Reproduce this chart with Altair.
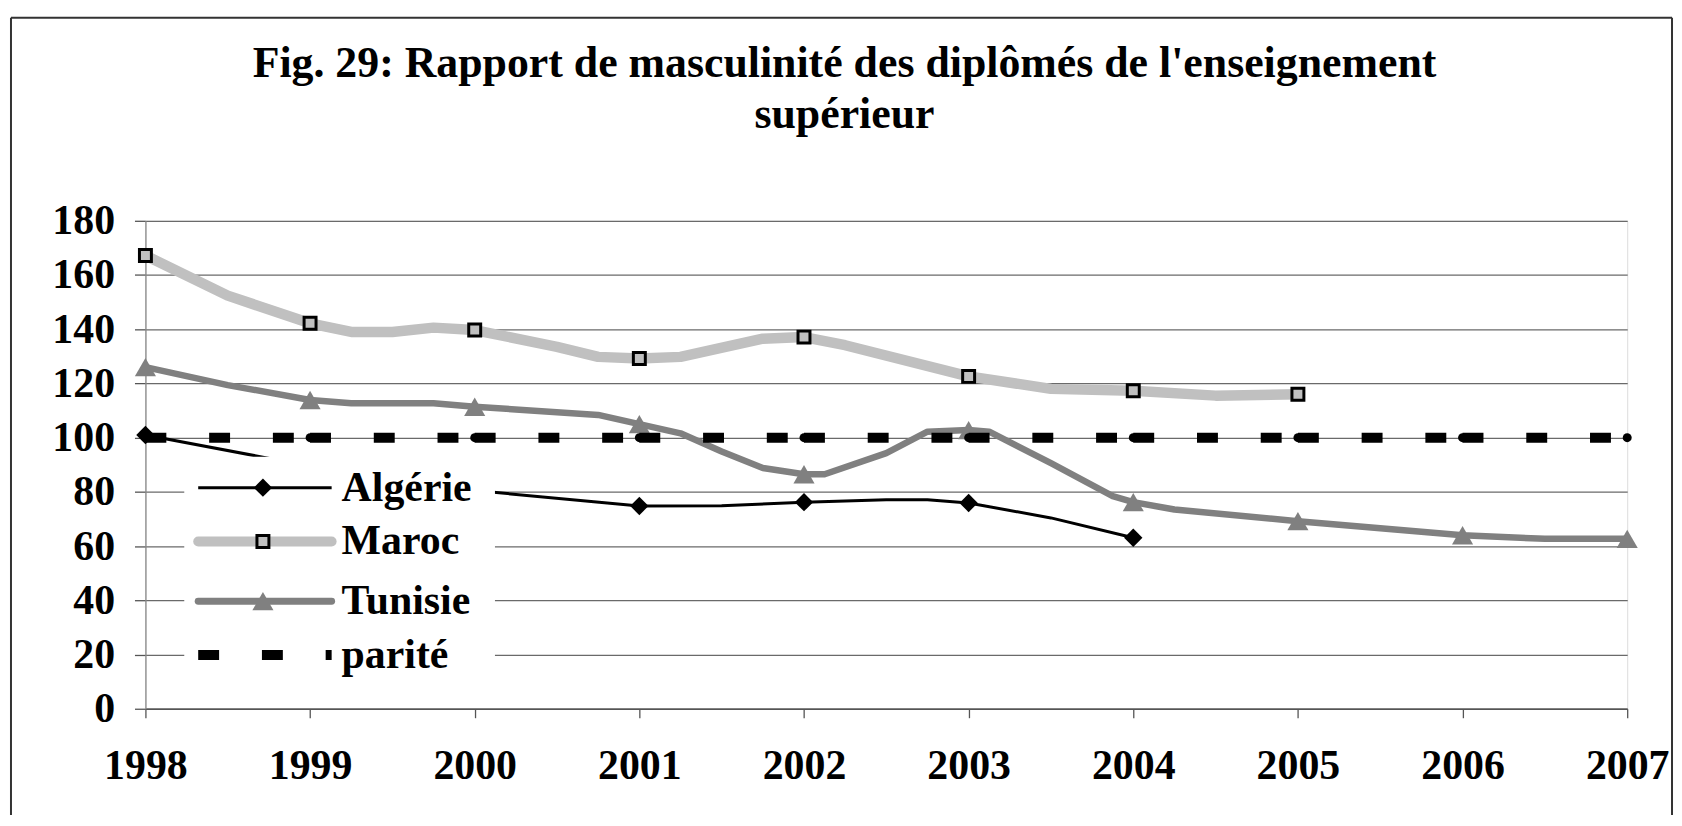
import altair as alt
import pandas as pd

FONT = "Liberation Serif"

title_lines = ["Fig. 29: Rapport de masculinité des diplômés de l'enseignement", "supérieur"]
series_names = ["Algérie", "Maroc", "Tunisie", "parité"]
years = list(range(1998, 2008))
y_ticks = list(range(0, 181, 20))

# Algérie
alg_marker_years = [1998, 1999, 2000, 2001, 2002, 2003, 2004]
alg_marker_vals = [101, 89.5, 80.5, 74.8, 76.2, 75.9, 63.1]
alg_line_x = [1998, 1999, 2000, 2001, 2001.5, 2002, 2002.5, 2002.75, 2003, 2003.5, 2004]
alg_line_y = [101, 89.5, 80.5, 74.8, 74.9, 76.2, 77.1, 77.1, 75.9, 70.4, 63.1]

# Maroc
mar_marker_years = [1998, 1999, 2000, 2001, 2002, 2003, 2004, 2005]
mar_marker_vals = [167.2, 142.2, 139.7, 129.2, 137.1, 122.6, 117.3, 116.0]
mar_line_x = [1998, 1998.5, 1999, 1999.25, 1999.5, 1999.75, 2000, 2000.5, 2000.75, 2001,
              2001.25, 2001.75, 2002, 2002.25, 2003, 2003.5, 2004, 2004.5, 2005]
mar_line_y = [167.2, 152.4, 142.2, 139.0, 139.0, 140.6, 139.7, 133.5, 129.8, 129.2,
              129.8, 136.5, 137.1, 134.1, 122.6, 118.0, 117.3, 115.5, 116.0]

# Tunisie
tun_marker_years = years
tun_marker_vals = [126.0, 113.9, 111.4, 105.0, 86.5, 102.8, 76.2, 69.2, 64.0, 62.7]
tun_line_x = [1998, 1998.5, 1999, 1999.25, 1999.75, 2000, 2000.75, 2001, 2001.25, 2001.5,
              2001.75, 2002, 2002.125, 2002.5, 2002.75, 2003, 2003.125, 2003.5, 2003.875,
              2004, 2004.25, 2005, 2006, 2006.5, 2007]
tun_line_y = [126.0, 119.4, 113.9, 112.7, 112.7, 111.4, 108.4, 105.0, 101.6, 94.9,
              88.8, 86.5, 86.5, 94.3, 102.2, 102.8, 102.2, 90.6, 78.4,
              76.2, 73.5, 69.2, 64.0, 62.7, 62.7]

# parité
parite_years = years
parite_vals = [100] * len(years)

W, H = 1488, 490
LABEL_SIZE = 42

x_scale = alt.Scale(domain=[1998, 2007], nice=False, zero=False)
y_scale = alt.Scale(domain=[0, 180], nice=False)

x_axis = alt.Axis(values=years, format="d", title=None, grid=False,
                  domainColor="#555555", domainWidth=1.5,
                  tickColor="#555555", tickSize=9, tickWidth=1.3,
                  labelFont=FONT, labelFontSize=LABEL_SIZE, labelFontWeight="bold", labelColor="black",
                  labelPadding=28, labelFlush=False, labelOverlap=False)
y_axis = alt.Axis(values=y_ticks, title=None, grid=True,
                  gridColor="#6a6a6a", gridWidth=1.3,
                  domainColor="#8a8a8a", domainWidth=1.3,
                  tickColor="#555555", tickSize=11, tickWidth=1.3,
                  labelFont=FONT, labelFontSize=LABEL_SIZE, labelFontWeight="bold", labelColor="black",
                  labelPadding=20, labelOverlap=False)


def X(field):
    return alt.X(field, type="quantitative", scale=x_scale, axis=x_axis)


def Y(field):
    return alt.Y(field, type="quantitative", scale=y_scale, axis=y_axis)


def line_layer(xs, ys, color, width):
    df = pd.DataFrame({"x": xs, "y": ys})
    return alt.Chart(df).mark_line(color=color, strokeWidth=width, strokeCap="round",
                                   strokeJoin="round").encode(x=X("x"), y=Y("y"))


def point_layer(xs, ys, **kw):
    df = pd.DataFrame({"x": xs, "y": ys})
    return alt.Chart(df).mark_point(opacity=1, **kw).encode(x=X("x"), y=Y("y"))


ALG_MARK = dict(shape="diamond", filled=True, color="black", size=340)
MAR_MARK = dict(shape="square", filled=True, fill="#C0C0C0", stroke="black", strokeWidth=3,
                size=144, fillOpacity=1)
TUN_MARK = dict(shape="triangle-up", filled=True, color="#808080", size=450)

alg_line = line_layer(alg_line_x, alg_line_y, "black", 3)
alg_pts = point_layer(alg_marker_years, alg_marker_vals, **ALG_MARK)
mar_line = line_layer(mar_line_x, mar_line_y, "#C0C0C0", 10.5)
mar_pts = point_layer(mar_marker_years, mar_marker_vals, **MAR_MARK)
tun_line = line_layer(tun_line_x, tun_line_y, "#808080", 6.5)
tun_pts = point_layer(tun_marker_years, tun_marker_vals, **TUN_MARK)

par_df = pd.DataFrame({"x": parite_years[:-1], "x2": parite_years[1:], "y": parite_vals[:-1]})
par_rule = alt.Chart(par_df).mark_rule(color="black", strokeWidth=10, strokeDash=[21, 43],
                                       strokeCap="butt").encode(
    x=X("x"), x2=alt.X2("x2"), y=Y("y"))
par_pts = point_layer(parite_years, parite_vals, shape="circle", filled=True,
                      color="black", size=81)

one = pd.DataFrame({"a": [0]})

# outer chart frame (left, top, right)
frame_style = dict(color="#333333", strokeWidth=2)
frame = alt.layer(
    alt.Chart(one).mark_rule(**frame_style).encode(x=alt.value(-135), y=alt.value(-204), y2=alt.value(600)),
    alt.Chart(one).mark_rule(**frame_style).encode(x=alt.value(-135), x2=alt.value(1533), y=alt.value(-204)),
    alt.Chart(one).mark_rule(**frame_style).encode(x=alt.value(1533), y=alt.value(-204), y2=alt.value(600)),
)

# legend (drawn manually to show line + marker)
leg_bg = alt.Chart(one).mark_rect(fill="white").encode(
    x=alt.value(39), x2=alt.value(351), y=alt.value(237), y2=alt.value(470))
rows = [268, 322, 382, 436]
leg_line_styles = [
    dict(color="black", strokeWidth=3, strokeCap="butt"),
    dict(color="#C0C0C0", strokeWidth=10, strokeCap="round"),
    dict(color="#808080", strokeWidth=7, strokeCap="round"),
    dict(color="black", strokeWidth=10, strokeCap="butt", strokeDash=[21, 43]),
]
leg_marker_styles = [ALG_MARK, MAR_MARK, TUN_MARK, None]
leg_layers = [leg_bg]
for name, ry, ls, ms in zip(series_names, rows, leg_line_styles, leg_marker_styles):
    ndf = pd.DataFrame({"name": [name]})
    leg_layers.append(alt.Chart(ndf).mark_rule(**ls).encode(
        x=alt.value(53), x2=alt.value(187), y=alt.value(ry)))
    if ms is not None:
        leg_layers.append(alt.Chart(ndf).mark_point(opacity=1, **ms).encode(
            x=alt.value(118), y=alt.value(ry)))
    leg_layers.append(alt.Chart(ndf).mark_text(
        font=FONT, fontSize=LABEL_SIZE, fontWeight="bold", color="black", align="left",
        baseline="middle").encode(x=alt.value(197), y=alt.value(ry), text="name:N"))

chart = alt.layer(
    frame,
    alg_line, alg_pts,
    mar_line, mar_pts,
    tun_line, tun_pts,
    par_rule, par_pts,
    *leg_layers,
).properties(
    width=W, height=H,
    autosize="none",
    padding={"left": 138, "top": 212, "right": 47, "bottom": 105},
    title=alt.TitleParams(text=title_lines, font=FONT, fontSize=44, fontWeight="bold",
                          color="black", anchor="middle", frame="group", dx=-42,
                          offset=-121, lineHeight=51),
).configure_view(stroke=None).configure(background="white")

chart.save("out.html", embed_options={"renderer": "svg", "actions": False})
